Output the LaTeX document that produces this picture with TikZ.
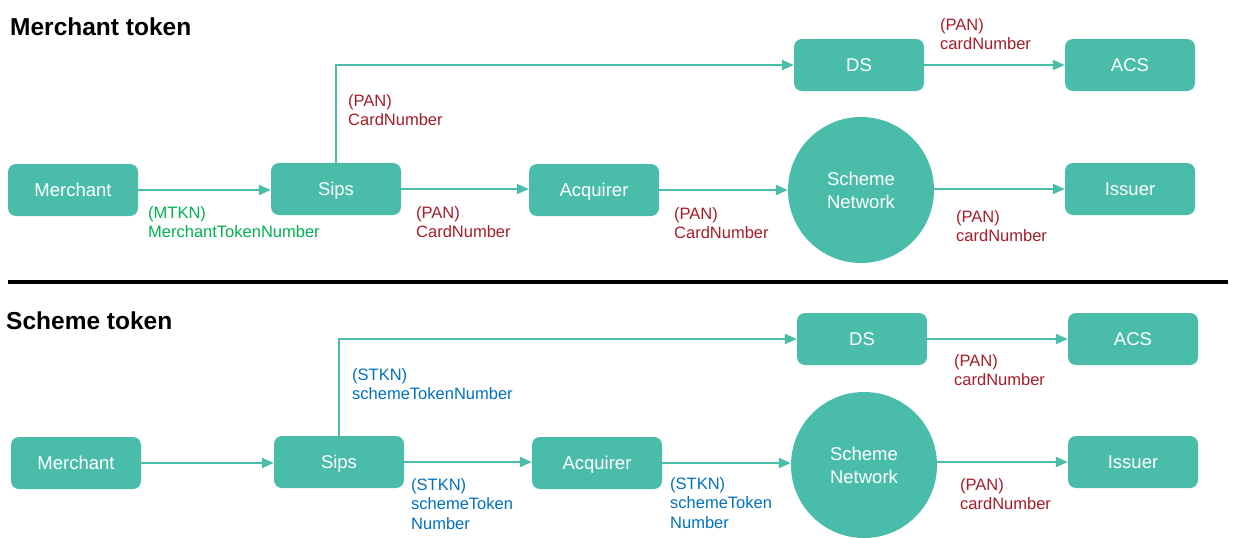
\documentclass[tikz,border=0pt]{standalone}
\usepackage{fontspec}
\setmainfont{Liberation Sans}
\usetikzlibrary{arrows.meta}
\definecolor{tealfill}{RGB}{74,189,170}
\definecolor{lblgreen}{RGB}{0,176,80}
\definecolor{lblred}{RGB}{166,28,40}
\definecolor{lblblue}{RGB}{0,112,192}
\begin{document}
\begin{tikzpicture}[x=1pt,y=-1pt,
  box/.style={fill=tealfill, rounded corners=8pt, minimum width=130pt, minimum height=52pt,
    text=white, font=\fontsize{18.5}{22}\selectfont, inner sep=0pt, text height=13pt, text depth=0pt},
  circ/.style={circle, fill=tealfill, minimum size=146pt, text=white,
    font=\fontsize{18.5}{23}\selectfont, align=center, inner sep=0pt},
  conn/.style={draw=tealfill, line width=2pt, -{Triangle[length=12pt,width=10pt]}},
  lbl/.style={anchor=north west, inner sep=0pt, align=left, font=\fontsize{16.5}{19.5}\selectfont},
  ttl/.style={anchor=west, inner sep=0pt, font=\bfseries\fontsize{24.5}{28}\selectfont}]
\useasboundingbox (0,0) rectangle (1243,538);

% ---------- Merchant token ----------
\node[ttl] (t1) at (10,27) {Merchant token};
\node[box] (m1) at (73,190) {Merchant};
\node[box] (s1) at (336,189) {Sips};
\node[box] (a1) at (594,190) {Acquirer};
\node[circ] (n1) at (861,190) {Scheme\\Network};
\node[box] (i1) at (1130,189) {Issuer};
\node[box] (d1) at (859,65) {DS};
\node[box] (c1) at (1130,65) {ACS};

\draw[conn] (m1.east) -- (s1.west |- m1.east);
\draw[conn] (s1.north) |- (d1.west);
\draw[conn] (s1.east) -- (a1.west |- s1.east);
\draw[conn] (a1.east) -- (n1.west |- a1.east);
\draw[conn] (n1.east |- i1.west) -- (i1.west);
\draw[conn] (d1.east) -- (c1.west);

\node[lbl, text=lblgreen] (l1) at (148,206) {(MTKN)\\MerchantTokenNumber};
\node[lbl, text=lblred] (l2) at (348,94) {(PAN)\\CardNumber};
\node[lbl, text=lblred] (l3) at (416,206) {(PAN)\\CardNumber};
\node[lbl, text=lblred] (l4) at (674,207) {(PAN)\\CardNumber};
\node[lbl, text=lblred] (l5) at (956,210) {(PAN)\\cardNumber};
\node[lbl, text=lblred] (l6) at (940,18) {(PAN)\\cardNumber};

% ---------- separator ----------
\draw[line width=4pt] (8,282) -- (1228,282);

% ---------- Scheme token ----------
\node[ttl] (t2) at (6,321) {Scheme token};
\node[box] (m2) at (76,463) {Merchant};
\node[box] (s2) at (339,462) {Sips};
\node[box] (a2) at (597,463) {Acquirer};
\node[circ] (n2) at (864,465) {Scheme\\Network};
\node[box] (i2) at (1133,462) {Issuer};
\node[box] (d2) at (862,339) {DS};
\node[box] (c2) at (1133,339) {ACS};

\draw[conn] (m2.east) -- (s2.west |- m2.east);
\draw[conn] (s2.north) |- (d2.west);
\draw[conn] (s2.east) -- (a2.west |- s2.east);
\draw[conn] (a2.east) -- (n2.west |- a2.east);
\draw[conn] (n2.east |- i2.west) -- (i2.west);
\draw[conn] (d2.east) -- (c2.west);

\node[lbl, text=lblblue] (l7) at (352,368) {(STKN)\\schemeTokenNumber};
\node[lbl, text=lblblue] (l8) at (411,478) {(STKN)\\schemeToken\\Number};
\node[lbl, text=lblblue] (l9) at (670,477) {(STKN)\\schemeToken\\Number};
\node[lbl, text=lblred] (l10) at (954,354) {(PAN)\\cardNumber};
\node[lbl, text=lblred] (l11) at (960,478) {(PAN)\\cardNumber};
\end{tikzpicture}
\end{document}
